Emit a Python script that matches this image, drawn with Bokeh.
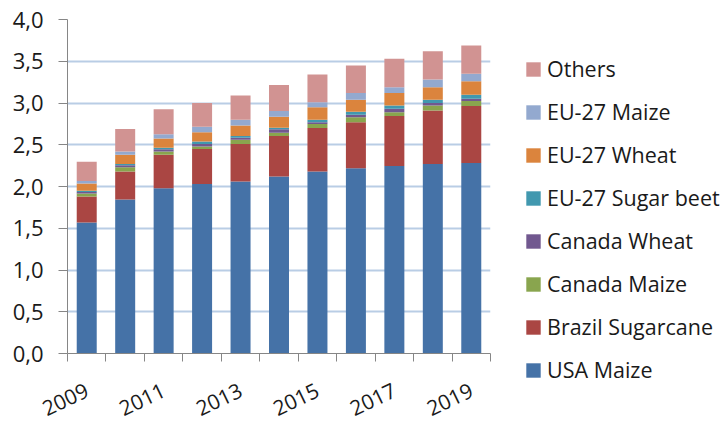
import math
from bokeh.plotting import figure
from bokeh.models import (ColumnDataSource, FixedTicker, CustomJSTickFormatter,
                          Legend, LegendItem, Range1d)
from bokeh.embed import file_html
from bokeh.resources import INLINE

years = [2009, 2010, 2011, 2012, 2013, 2014, 2015, 2016, 2017, 2018, 2019]
labeled_years = [2009, 2011, 2013, 2015, 2017, 2019]
year_bounds = [2008.5, 2009.5, 2010.5, 2011.5, 2012.5, 2013.5, 2014.5, 2015.5,
               2016.5, 2017.5, 2018.5, 2019.5]
y_ticks = [0.0, 0.5, 1.0, 1.5, 2.0, 2.5, 3.0, 3.5, 4.0]

usa_maize        = [1.57, 1.845, 1.98, 2.03, 2.06, 2.12, 2.18, 2.22, 2.245, 2.27, 2.28]
brazil_sugarcane = [0.31, 0.335, 0.40, 0.42, 0.45, 0.485, 0.52, 0.55, 0.60, 0.64, 0.685]
canada_maize     = [0.035, 0.05, 0.04, 0.03, 0.05, 0.04, 0.05, 0.06, 0.045, 0.06, 0.06]
canada_wheat     = [0.02, 0.025, 0.025, 0.03, 0.025, 0.04, 0.02, 0.03, 0.04, 0.03, 0.025]
eu_sugar_beet    = [0.015, 0.015, 0.02, 0.03, 0.02, 0.02, 0.03, 0.035, 0.04, 0.04, 0.05]
eu_wheat         = [0.085, 0.11, 0.11, 0.11, 0.125, 0.13, 0.15, 0.145, 0.15, 0.15, 0.16]
eu_maize         = [0.03, 0.04, 0.05, 0.065, 0.07, 0.07, 0.06, 0.08, 0.07, 0.09, 0.09]
others           = [0.23, 0.27, 0.30, 0.285, 0.29, 0.31, 0.33, 0.33, 0.34, 0.34, 0.34]

series_keys = ["usa_maize", "brazil_sugarcane", "canada_maize", "canada_wheat",
               "eu_sugar_beet", "eu_wheat", "eu_maize", "others"]
series_names = ["USA Maize", "Brazil Sugarcane", "Canada Maize", "Canada Wheat",
                "EU-27 Sugar beet", "EU-27 Wheat", "EU-27 Maize", "Others"]
colors = ["#4572A7", "#AA4643", "#89A54E", "#71588F",
          "#4198AF", "#DB843D", "#93A9CF", "#D19392"]

source = ColumnDataSource(dict(
    year=years, usa_maize=usa_maize, brazil_sugarcane=brazil_sugarcane,
    canada_maize=canada_maize, canada_wheat=canada_wheat,
    eu_sugar_beet=eu_sugar_beet, eu_wheat=eu_wheat, eu_maize=eu_maize,
    others=others))

FONT = "Open Sans"
TEXT = "#1a1a1a"
AXIS = "#868686"

p = figure(frame_width=423, frame_height=334, x_range=Range1d(2008.5, 2019.5),
           y_range=Range1d(0, 4), output_backend="svg", toolbar_location=None,
           min_border_left=67, min_border_top=19, min_border_right=233,
           min_border_bottom=69)
p.outline_line_color = None
p.background_fill_color = "white"
p.border_fill_color = "white"

renderers = p.vbar_stack(series_keys, x="year", width=0.52, color=colors,
                         line_color=None, source=source)

# y axis
p.yaxis.ticker = FixedTicker(ticks=y_ticks)
p.yaxis.formatter = CustomJSTickFormatter(code="return tick.toFixed(1).replace('.', ',');")
p.yaxis.axis_line_color = AXIS
p.yaxis.major_tick_line_color = AXIS
p.yaxis.major_tick_out = 9
p.yaxis.major_tick_in = 0
p.yaxis.minor_tick_line_color = None
p.yaxis.major_label_text_font = FONT
p.yaxis.major_label_text_font_size = "22px"
p.yaxis.major_label_text_color = TEXT
p.yaxis.major_label_standoff = 15

# x axis
p.xaxis.ticker = FixedTicker(ticks=labeled_years, minor_ticks=year_bounds)
p.xaxis.formatter = CustomJSTickFormatter(code="return tick.toFixed(0);")
p.xaxis.axis_line_color = AXIS
p.xaxis.major_tick_line_color = None
p.xaxis.minor_tick_line_color = AXIS
p.xaxis.minor_tick_out = 8
p.xaxis.minor_tick_in = 0
p.xaxis.major_label_text_font = FONT
p.xaxis.major_label_text_font_size = "21px"
p.xaxis.major_label_text_color = TEXT
p.xaxis.major_label_orientation = 0.45
p.xaxis.major_label_standoff = 27

p.xgrid.visible = False
p.ygrid.grid_line_color = "#b9cde5"
p.ygrid.grid_line_width = 2

items = [LegendItem(label=n, renderers=[r]) for n, r in zip(series_names, renderers)]
items.reverse()
legend = Legend(items=items, location=(34, -31), orientation="vertical",
                glyph_width=18, glyph_height=18, label_height=20, spacing=14,
                padding=0, margin=0, label_standoff=5,
                border_line_color=None, background_fill_alpha=0,
                label_text_font=FONT, label_text_font_size="21.5px",
                label_text_color=TEXT)
p.add_layout(legend, "right")

open("out.html", "w").write(file_html(p, INLINE))
